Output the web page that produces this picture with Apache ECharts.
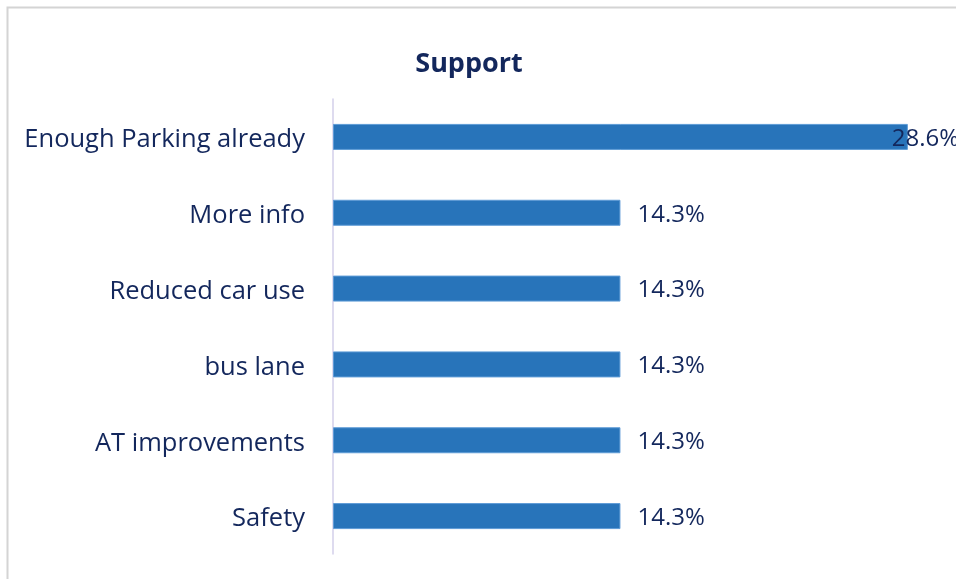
<!DOCTYPE html>
<html>
<head>
<meta charset="utf-8">
<script src="https://cdn.jsdelivr.net/npm/echarts@6/dist/echarts.min.js"></script>
<style>
  html, body { margin: 0; padding: 0; background: #ffffff; }
  #chart { width: 956px; height: 579px; }
</style>
</head>
<body>
<div id="chart"></div>
<script>
// Reasons given in support, share of responses (%)
const categories = [
  'Enough Parking already',
  'More info',
  'Reduced car use',
  'bus lane',
  'AT improvements',
  'Safety'
];
const shares = [28.6, 14.3, 14.3, 14.3, 14.3, 14.3];

const textColor = '#13275c';
const font = '"Open Sans", "Noto Sans", sans-serif';

const chart = echarts.init(document.getElementById('chart'), null, { renderer: 'canvas' });

const seriesData = shares.map((v, i) => {
  const item = { value: v };
  // the longest bar reaches the plot edge, so its label is pulled back over the bar end
  if (i === 0) item.label = { offset: [-33, 2] };
  return item;
});

chart.setOption({
  animation: false,
  backgroundColor: '#ffffff',
  title: {
    text: 'Support',
    left: 464,
    top: 46,
    textAlign: 'center',
    textStyle: { fontFamily: font, fontSize: 27, fontWeight: 'bold', color: textColor }
  },
  graphic: [{
    type: 'rect',
    shape: { x: 7.5, y: 7.5, width: 1000, height: 1000 },
    style: { fill: 'none', stroke: '#d4d4d4', lineWidth: 2 },
    silent: true,
    z: -1
  }],
  grid: { left: 333, right: 20, top: 99, bottom: 25, containLabel: false },
  xAxis: {
    type: 'value',
    min: 0,
    max: 30,
    show: false
  },
  yAxis: {
    type: 'category',
    data: categories,
    inverse: true,
    axisLine: { show: true, lineStyle: { color: '#d3cfea', width: 1.5 } },
    axisTick: { show: false },
    axisLabel: {
      margin: 28,
      formatter: v => '{c|' + v + '}',
      rich: {
        c: { fontFamily: font, fontSize: 25.5, color: textColor, padding: [6, 0, 0, 0] }
      }
    }
  },
  series: [{
    type: 'bar',
    data: seriesData,
    barWidth: 26,
    itemStyle: { color: '#2874ba', borderColor: '#5e9bd6', borderWidth: 1 },
    label: {
      show: true,
      position: 'right',
      distance: 17,
      offset: [0, 2],
      fontFamily: font,
      fontSize: 24,
      color: textColor,
      formatter: p => p.value.toFixed(1) + '%'
    }
  }]
});
</script>
</body>
</html>
